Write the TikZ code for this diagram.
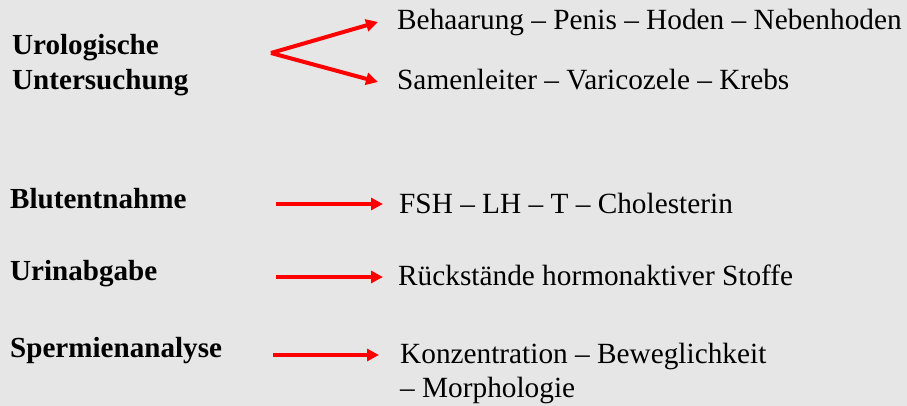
\documentclass[tikz,border=0pt]{standalone}
\usepackage{fontspec}
\setmainfont{Liberation Serif}
\usetikzlibrary{arrows.meta}
\definecolor{bggray}{HTML}{E6E6E6}
\definecolor{arrred}{HTML}{FF0000}
\begin{document}
\begin{tikzpicture}[x=1pt,y=-1pt,
  lbl/.style={anchor=base west,inner sep=0pt,font=\fontsize{29.1}{34}\selectfont\bfseries},
  txt/.style={anchor=base west,inner sep=0pt,font=\fontsize{29.3}{34}\selectfont},
  arr/.style={draw=arrred,line width=4pt,-{Triangle[length=12pt,width=12pt]}}]
\fill[bggray] (0,0) rectangle (907,406);
\useasboundingbox (0,0) rectangle (907,406);
% left labels
\node[lbl] (uro1) at (12,55) {Urologische};
\node[lbl] (uro2) at (12,90) {Untersuchung};
\node[lbl] (blut) at (10,208) {Blutentnahme};
\node[lbl] (urin) at (10,280) {Urinabgabe};
\node[lbl] (sperm) at (10,357) {Spermienanalyse};
% right texts
\node[txt] (beh) at (397,30) {Behaarung – Penis – Hoden – Nebenhoden};
\node[txt] (sam) at (397,90) {Samenleiter – Varicozele – Krebs};
\node[txt] (fsh) at (399,213) {FSH – LH – T – Cholesterin};
\node[txt] (rue) at (398,285) {Rückstände hormonaktiver Stoffe};
\node[txt] (kon1) at (400,363) {Konzentration – Beweglichkeit};
\node[txt] (kon2) at (400,397) {– Morphologie};
% connector points
\coordinate (apex) at (271,53);
\coordinate (behend) at (378,22);
\coordinate (samend) at (378,82);
\coordinate (b1) at (276,204);
\coordinate (b2) at (383,204);
\coordinate (u1) at (276,277);
\coordinate (u2) at (383,277);
\coordinate (s1) at (273,355);
\coordinate (s2) at (379,355);
% arrows
\draw[arr] (apex) -- (behend);
\draw[arr] (apex) -- (samend);
\draw[arr] (b1) -- (b2);
\draw[arr] (u1) -- (u2);
\draw[arr] (s1) -- (s2);
\end{tikzpicture}
\end{document}
